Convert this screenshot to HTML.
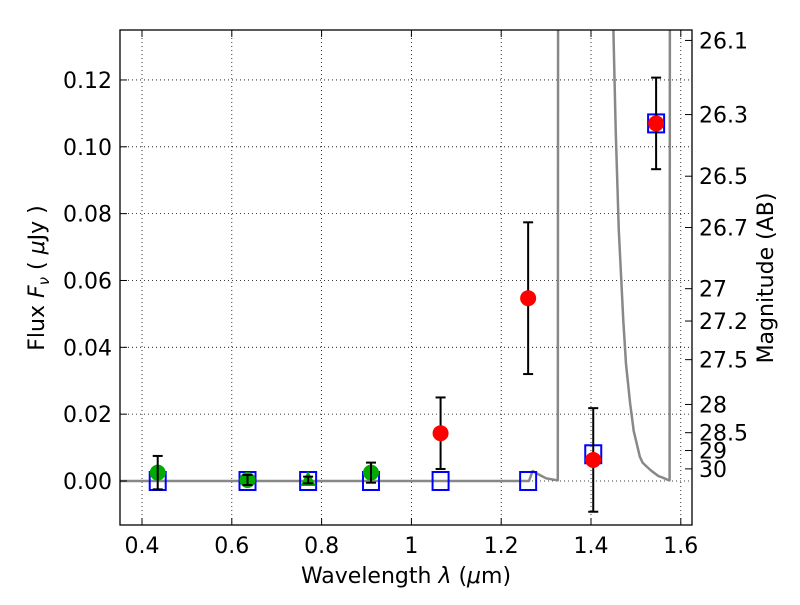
<!DOCTYPE html>
<html><head><meta charset="utf-8"><style>
body{margin:0;background:#fff;}
svg text{font-family:"DejaVu Sans","Liberation Sans",sans-serif;font-size:22px;fill:#000;}
</style></head><body>
<svg id="chart" width="800" height="600" viewBox="0 0 800 600" xmlns="http://www.w3.org/2000/svg">
<defs><clipPath id="clip"><rect x="120" y="30" width="572" height="495"/></clipPath></defs>
<rect x="0" y="0" width="800" height="600" fill="#fff"/>
<g id="grid"></g>
<g id="curve" clip-path="url(#clip)"></g>
<g id="marks" clip-path="url(#clip)"></g>
<rect x="120" y="30" width="572" height="495" fill="none" stroke="#000" stroke-width="1.3"/>
<g id="axes"></g>
<text x="406" y="583" text-anchor="middle">Wavelength  <tspan font-style="italic">λ</tspan> (<tspan font-style="italic">μ</tspan>m)</text>
<text transform="translate(44,278) rotate(-90)" text-anchor="middle">Flux  <tspan font-style="italic">F</tspan><tspan font-style="italic" font-size="15" dy="5">ν</tspan><tspan dy="-5">  ( </tspan><tspan font-style="italic">μ</tspan>Jy )</text>
<text transform="translate(773,278) rotate(-90)" text-anchor="middle">Magnitude (AB)</text>
</svg>
<script>
const xTicks=[0.4,0.6,0.8,1.0,1.2,1.4,1.6];
const xTickLabels=["0.4","0.6","0.8","1","1.2","1.4","1.6"];
const yTicks=[0,0.02,0.04,0.06,0.08,0.10,0.12];
const yTickLabels=["0.00","0.02","0.04","0.06","0.08","0.10","0.12"];
const magTicks=[26.1,26.3,26.5,26.7,27,27.2,27.5,28,28.5,29,30];
const greenWl=[0.435,0.635,0.91];
const greenFlux=[0.0025,0.0003,0.0025];
const greenErr=[0.005,0.0015,0.003];
const triWl=[0.77];
const triFlux=[0.0003];
const triErr=[0.001];
const redWl=[1.065,1.26,1.405,1.545];
const redFlux=[0.0143,0.0547,0.0063,0.107];
const redErr=[0.0107,0.0227,0.0155,0.0137];
const sqWl=[0.435,0.635,0.77,0.91,1.065,1.26,1.405,1.545];
const sqFlux=[0,0,0,0,0,0,0.008,0.107];
const curveWl=[0.3,1.262,1.27,1.28,1.30,1.325,1.326,1.327,1.449,1.455,1.462,1.472,1.478,1.487,1.495,1.509,1.515,1.525,1.535,1.55,1.56,1.572,1.575,1.576,1.7];
const curveFlux=[0,0,0.003,0.0022,0.0008,0.0002,0.0002,0.2,0.14,0.105,0.075,0.048,0.035,0.0233,0.015,0.0072,0.0055,0.0042,0.003,0.0015,0.001,0.0003,0.0002,0.2,0.2];
const sx=v=>142+(v-0.4)*449;
const sy=v=>481-v*3342;
const NS="http://www.w3.org/2000/svg";
function mk(parent,tag,attrs){const e=document.createElementNS(NS,tag);for(const k in attrs)e.setAttribute(k,attrs[k]);parent.appendChild(e);return e;}
const grid=document.getElementById('grid'),axes=document.getElementById('axes'),marks=document.getElementById('marks'),curve=document.getElementById('curve');
xTicks.forEach((t,i)=>{const x=sx(t);
 const g=mk(grid,'line',{x1:x,x2:x,y1:30,y2:525,stroke:'#000','stroke-width':0.8,'stroke-dasharray':'1,3'});
 
 
 mk(axes,'line',{x1:x,x2:x,y1:525,y2:518,stroke:'#000'});
 mk(axes,'line',{x1:x,x2:x,y1:30,y2:37,stroke:'#000'});
 const tx=mk(axes,'text',{x:x,y:553,'text-anchor':'middle'});tx.textContent=xTickLabels[i];
 
 
});
yTicks.forEach((t,i)=>{const y=sy(t);
 const g=mk(grid,'line',{x1:120,x2:692,y1:y,y2:y,stroke:'#000','stroke-width':0.8,'stroke-dasharray':'1,3'});
 
 
 mk(axes,'line',{x1:120,x2:127,y1:y,y2:y,stroke:'#000'});
 const tx=mk(axes,'text',{x:112,y:y+8,'text-anchor':'end'});tx.textContent=yTickLabels[i];
 
 
});
magTicks.forEach(m=>{const f=Math.pow(10,(23.9-m)/2.5);const y=sy(f);
 mk(axes,'line',{x1:685,x2:692,y1:y,y2:y,stroke:'#000'});
 const tx=mk(axes,'text',{x:699,y:y+8});tx.textContent=String(m);
 
 
});
let d='';curveWl.forEach((w,i)=>{d+=(i?'L':'M')+sx(w).toFixed(1)+','+sy(curveFlux[i]).toFixed(1);});
const p=mk(curve,'path',{d:d,fill:'none',stroke:'#888','stroke-width':2.5,'stroke-linejoin':'round'});


function err(w,f,e){const x=sx(w);
 mk(marks,'line',{x1:x,x2:x,y1:sy(f-e),y2:sy(f+e),stroke:'#000','stroke-width':2});
 mk(marks,'line',{x1:x-5,x2:x+5,y1:sy(f-e),y2:sy(f-e),stroke:'#000','stroke-width':2});
 mk(marks,'line',{x1:x-5,x2:x+5,y1:sy(f+e),y2:sy(f+e),stroke:'#000','stroke-width':2});}
sqWl.forEach((w,i)=>{const r=mk(marks,'rect',{x:sx(w)-8,y:sy(sqFlux[i])-9,width:16,height:18,fill:'none',stroke:'#00f','stroke-width':2});
 
 });
greenWl.forEach((w,i)=>{const c=mk(marks,'circle',{cx:sx(w),cy:sy(greenFlux[i]),r:8,fill:'#0a0'});
 
 
 err(w,greenFlux[i],greenErr[i]);});
triWl.forEach((w,i)=>{const x=sx(w),y=sy(triFlux[i]);
 const t=mk(marks,'polygon',{points:`${x},${y-9} ${x-8},${y+6} ${x+8},${y+6}`,fill:'#0a0'});
 
 
 err(w,triFlux[i],triErr[i]);});
redWl.forEach((w,i)=>{err(w,redFlux[i],redErr[i]);
 const c=mk(marks,'circle',{cx:sx(w),cy:sy(redFlux[i]),r:8,fill:'#f00'});
 
 });
</script>
</body></html>
